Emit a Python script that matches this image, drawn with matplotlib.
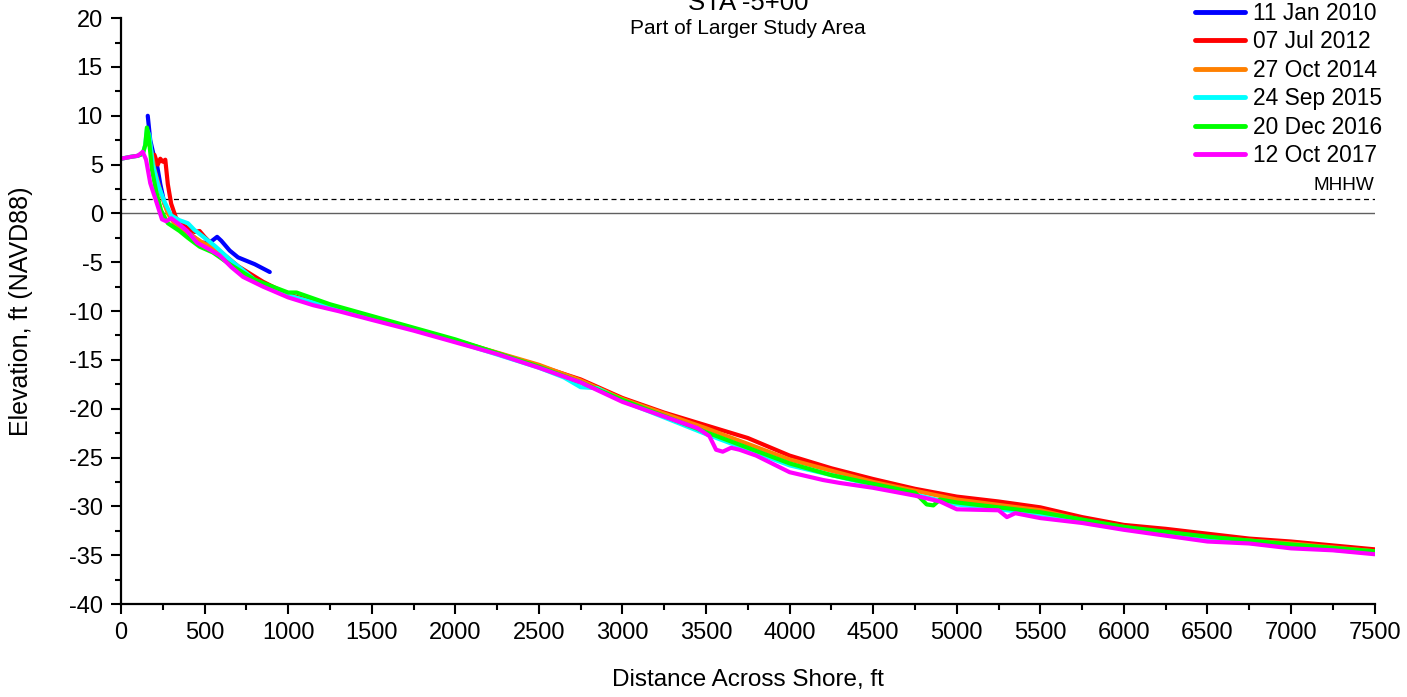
"""beach profile STA -5+00: six surveys across shore"""
import matplotlib
matplotlib.use('Agg')
import matplotlib.pyplot as plt
from matplotlib.ticker import MultipleLocator

# survey labels and colours
labels = ['11 Jan 2010', '07 Jul 2012', '27 Oct 2014', '24 Sep 2015', '20 Dec 2016', '12 Oct 2017']
colors = ['#0000ff', '#ff0000', '#ff8000', '#00ffff', '#00ff00', '#ff00ff']

# profiles: distance [ft], elevation [ft NAVD88]
dist2010 = [160, 175, 195, 215, 235, 260, 300, 350, 420, 480, 530, 575, 600, 650, 700, 800, 890]
elev2010 = [10.0, 7.5, 6.0, 5.0, 3.0, 1.0, -0.5, -1.3, -2.2, -3.0, -3.0, -2.4, -2.8, -3.8, -4.5, -5.2, -6.0]

dist2012 = [200, 220, 235, 250, 265, 280, 300, 330, 380, 440, 470, 500, 540, 600, 700, 850, 1000, 1250,
            1500, 2000, 2500, 2750, 3000, 3250, 3500, 3750, 4000, 4250, 4500, 4750, 5000, 5250, 5500, 5750,
            6000, 6250, 6500, 6750, 7000, 7250, 7500]
elev2012 = [6.0, 5.0, 5.6, 5.3, 5.5, 3.0, 1.0, -0.5, -1.3, -1.9, -1.8, -2.4, -3.1, -4.0, -5.4, -7.0, -8.3, -9.5,
            -10.6, -13.0, -15.6, -17.0, -18.9, -20.4, -21.7, -23.0, -24.8, -26.1, -27.2, -28.2, -29.0, -29.5,
            -30.1, -31.1, -31.9, -32.3, -32.8, -33.3, -33.6, -34.0, -34.4]

dist2014 = [150, 160, 175, 200, 240, 280, 330, 400, 480, 560, 650, 800, 1000, 1250, 1500, 2000, 2500, 2750,
            3000, 3500, 4000, 4500, 5000, 5500, 5800, 6000, 6250, 6500, 7000, 7500]
elev2014 = [7.0, 8.0, 7.0, 4.5, 2.0, 0.0, -1.3, -2.0, -2.9, -3.6, -5.0, -6.9, -8.4, -9.6, -10.7, -13.0, -15.5,
            -17.1, -19.0, -22.0, -25.2, -27.5, -29.3, -30.4, -31.6, -32.1, -32.9, -33.2, -33.8, -34.6]

dist2015 = [0, 60, 100, 130, 145, 155, 170, 190, 220, 260, 300, 350, 400, 440, 500, 560, 650, 800, 1000, 1250,
            1500, 2000, 2500, 2650, 2750, 2850, 3000, 3500, 4000, 4500, 5000, 5500, 6000, 6500, 7000, 7500]
elev2015 = [5.6, 5.8, 5.9, 6.1, 7.0, 8.6, 8.0, 5.0, 3.0, 1.2, -0.2, -0.7, -1.0, -1.7, -2.5, -3.3, -4.7, -6.8,
            -8.4, -9.6, -10.7, -13.1, -15.8, -16.8, -17.8, -17.9, -19.2, -22.6, -25.8, -27.8, -29.8, -30.8,
            -32.3, -33.4, -34.1, -34.8]

dist2016 = [0, 60, 100, 130, 145, 155, 165, 185, 210, 240, 280, 350, 400, 470, 550, 650, 800, 1000, 1050,
            1250, 1500, 2000, 2500, 2750, 3000, 3500, 4000, 4250, 4500, 4750, 4820, 4860, 4900, 5000, 5500,
            6000, 6500, 7000, 7500]
elev2016 = [5.6, 5.8, 5.9, 6.1, 7.0, 8.8, 8.0, 4.5, 2.3, 0.3, -1.0, -1.8, -2.5, -3.4, -4.0, -5.2, -6.8, -8.1,
            -8.1, -9.3, -10.5, -12.9, -15.7, -17.3, -19.1, -22.4, -25.6, -26.8, -27.7, -28.6, -29.8, -29.9,
            -29.3, -29.6, -30.6, -32.1, -33.1, -33.9, -34.6]

dist2017 = [0, 60, 100, 130, 150, 175, 215, 245, 270, 300, 340, 395, 455, 520, 590, 660, 730, 850, 1000, 1150,
            1300, 1500, 1750, 2000, 2250, 2500, 2750, 3000, 3250, 3450, 3520, 3560, 3600, 3650, 3700, 3800,
            4000, 4200, 4300, 4500, 4750, 4900, 5000, 5250, 5300, 5350, 5500, 5750, 6000, 6250, 6500, 6750,
            7000, 7250, 7500]
elev2017 = [5.6, 5.8, 5.9, 6.3, 5.5, 3.1, 1.0, -0.6, -0.8, -0.5, -1.0, -1.8, -3.0, -3.6, -4.3, -5.5, -6.5, -7.5,
            -8.6, -9.4, -10.0, -10.9, -12.0, -13.2, -14.4, -15.8, -17.3, -19.3, -20.8, -22.0, -22.8, -24.2,
            -24.4, -24.0, -24.2, -24.8, -26.5, -27.3, -27.6, -28.1, -28.9, -29.5, -30.3, -30.4, -31.1, -30.7,
            -31.2, -31.7, -32.4, -33.0, -33.6, -33.8, -34.3, -34.5, -34.9]

mhhw = 1.5

profiles = [(dist2010, elev2010), (dist2012, elev2012), (dist2014, elev2014),
            (dist2015, elev2015), (dist2016, elev2016), (dist2017, elev2017)]

plt.rcParams['font.family'] = ['Liberation Sans', 'DejaVu Sans']
plt.rcParams['axes.unicode_minus'] = False

fig = plt.figure(figsize=(14.07, 6.97), dpi=100)
ax = fig.add_axes([0.086, 0.1334, 0.891, 0.8406])

ax.axhline(0, color='#606060', lw=1.0, zorder=1)
ax.axhline(mhhw, color='k', lw=0.9, ls=(0, (4, 3)), zorder=1)
ax.text(7500, mhhw + 0.5, 'MHHW', ha='right', va='bottom', fontsize=13.7)

for (d, e), lab, col in zip(profiles, labels, colors):
  ax.plot(d, e, '-', color=col, lw=3.0, label=lab, solid_capstyle='round', solid_joinstyle='round', zorder=2)

ax.set_xlim(0, 7500)
ax.set_ylim(-40, 20)
ax.xaxis.set_major_locator(MultipleLocator(500))
ax.xaxis.set_minor_locator(MultipleLocator(250))
ax.yaxis.set_major_locator(MultipleLocator(5))
ax.yaxis.set_minor_locator(MultipleLocator(2.5))
for side in ['top', 'right']:
  ax.spines[side].set_visible(False)
for side in ['left', 'bottom']:
  ax.spines[side].set_linewidth(1.6)
ax.tick_params(which='major', direction='out', length=7, width=1.5, labelsize=17, pad=6)
ax.tick_params(which='minor', direction='out', length=4, width=1.5)

ax.set_xlabel('Distance Across Shore, ft', fontsize=17.5, labelpad=18)
ax.set_ylabel('Elevation, ft (NAVD88)', fontsize=18, labelpad=26)

fig.text(0.5316, 1 - 10/697, 'STA -5+00', ha='center', va='baseline', fontsize=18.5)
fig.text(0.5316, 1 - 34/697, 'Part of Larger Study Area', ha='center', va='baseline', fontsize=15)

leg = ax.legend(loc='upper left', bbox_to_anchor=(1195/1407, 1 - 2/697), bbox_transform=fig.transFigure,
                frameon=False, fontsize=16.4, handlelength=2.2, handletextpad=0.35, labelspacing=0.24,
                borderpad=0, borderaxespad=0)
for line in leg.get_lines():
  line.set_linewidth(3.5)

fig.savefig('out.png', dpi=100)
